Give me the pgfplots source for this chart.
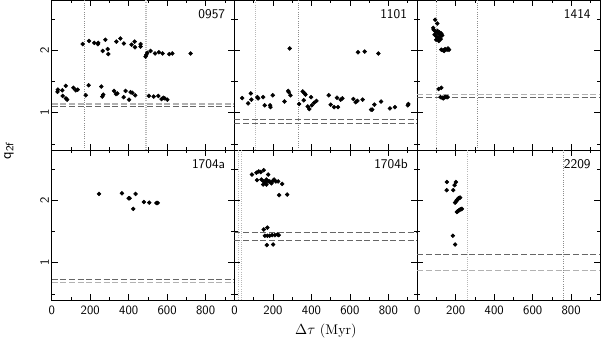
\documentclass[border=0pt]{standalone}
\usepackage{pgfplots}
\pgfplotsset{compat=1.18}
\usepgfplotslibrary{groupplots}

\pgfplotsset{
  dots/.style={only marks, mark=*, mark size=1.45pt, black},
  hdark/.style={black!60, line width=0.5pt, dash pattern=on 4.5pt off 2pt},
  hlight/.style={black!30, line width=0.8pt, dash pattern=on 4.5pt off 2pt},
  vdark/.style={black!45, line width=0.4pt, dash pattern=on 0.4pt off 1.3pt},
  vlight/.style={black!28, line width=0.9pt, dash pattern=on 0.6pt off 1pt},
}
\tikzset{plabel/.style={anchor=north east, inner sep=0pt, font=\sffamily\fontsize{10}{12}\selectfont}}

\begin{document}
\begin{tikzpicture}
\begin{groupplot}[
    group style={group size=3 by 2, horizontal sep=0pt, vertical sep=0pt,
      xticklabels at=edge bottom, yticklabels at=edge left},
    scale only axis,
    width=137.25pt, height=112.5pt,
    xmin=0, xmax=950, ymin=0.4, ymax=2.8,
    xtick={0,200,400,600,800}, minor xtick={100,300,500,700,900},
    ytick={1,2}, minor ytick={0.5,1.5,2.5},
    tick align=inside,
    major tick length=4.5pt, minor tick length=2.3pt,
    every tick/.style={black, line width=0.4pt},
    axis line style={line width=0.6pt},
    tick label style={font=\sffamily\fontsize{9.5}{11}\selectfont},
    /pgf/number format/assume math mode=true,
    yticklabel style={rotate=90, anchor=south, inner sep=2pt},
    xticklabel style={inner sep=4pt},
]
% 0957
\nextgroupplot
\addplot[vdark] coordinates {(170,0.4) (170,2.8)};
\addplot[vlight] coordinates {(490,0.4) (490,2.8)};
\addplot[hlight] coordinates {(0,1.14) (950,1.14)};
\addplot[hdark] coordinates {(0,1.10) (950,1.10)};
\addplot[dots] coordinates {
  (161,2.10)(194,2.15)(221,2.12)(240,2.10)(242,2.12)(265,1.99)(279,2.17)(291,2.02)
  (294,1.94)(336,2.14)(357,2.19)(375,2.11)(415,2.09)(431,2.14)(433,2.05)(462,2.10)
  (462,2.06)(488,1.90)(492,1.93)(497,1.96)(514,1.99)(537,1.95)(557,1.97)(576,1.95)
  (611,1.94)(627,1.95)(722,1.95)
  (30,1.335)(32,1.37)(55,1.36)(57,1.27)(74,1.23)(80,1.21)(73,1.43)(113,1.40)
  (125,1.36)(135,1.37)(177,1.28)(192,1.44)(258,1.42)(263,1.26)(268,1.29)(324,1.35)
  (334,1.30)(341,1.31)(374,1.25)(384,1.35)(402,1.21)(410,1.33)(419,1.32)(434,1.28)
  (505,1.27)(530,1.26)(554,1.27)(571,1.22)(580,1.24)(588,1.23)(601,1.21)
};
\node[plabel] at (rel axis cs:0.95,0.94) {0957};

% 1101
\nextgroupplot
\addplot[vlight] coordinates {(110,0.4) (110,2.8)};
\addplot[vdark] coordinates {(330,0.4) (330,2.8)};
\addplot[hdark] coordinates {(0,0.90) (950,0.90)};
\addplot[hdark] coordinates {(0,0.83) (950,0.83)};
\addplot[dots] coordinates {
  (40,1.235)(71,1.15)(85,1.31)(88,1.21)(119,1.25)(123,1.23)(149,1.25)(157,1.12)
  (185,1.12)(187,1.09)(199,1.28)(260,1.18)(279,1.35)(282,1.33)(287,2.03)(291,1.28)
  (336,1.14)(355,1.34)(360,1.20)(365,1.31)(369,1.29)(381,1.10)(389,1.06)(398,1.25)
  (402,1.12)(414,1.16)(426,1.19)(490,1.28)(500,1.13)(518,1.09)(533,1.24)(538,1.09)
  (552,1.21)(561,1.23)(618,1.22)(630,1.17)(639,1.19)(642,1.97)(666,1.21)(677,1.98)
  (710,1.05)(716,1.05)(727,1.13)(748,1.95)(762,1.18)(808,1.07)(834,1.09)(901,1.12)
  (904,1.14)
};
\node[plabel] at (rel axis cs:0.945,0.94) {1101};

% 1414
\nextgroupplot
\addplot[vlight] coordinates {(100,0.4) (100,2.8)};
\addplot[vdark] coordinates {(310,0.4) (310,2.8)};
\addplot[hlight] coordinates {(0,1.29) (950,1.29)};
\addplot[hdark] coordinates {(0,1.25) (950,1.25)};
\addplot[dots] coordinates {
  (93,2.49)(104,2.43)(83,2.36)
  (85,2.33)(95,2.30)(105,2.31)(115,2.29)(125,2.27)(90,2.25)(100,2.22)(110,2.20)
  (120,2.22)(130,2.24)(98,2.17)(112,2.15)(122,2.18)(108,2.27)(118,2.25)
  (125,2.01)(135,2.00)(145,2.02)(155,2.01)(165,2.01)(140,1.99)(160,2.03)
  (111,1.38)(125,1.40)
  (121,1.25)(130,1.24)(140,1.245)(150,1.25)(135,1.23)(145,1.255)(158,1.25)
};
\node[plabel] at (rel axis cs:0.95,0.94) {1414};

% 1704a
\nextgroupplot
\addplot[hdark] coordinates {(0,0.736) (950,0.736)};
\addplot[hlight] coordinates {(0,0.68) (950,0.68)};
\addplot[dots] coordinates {
  (246,2.10)(365,2.11)(400,2.03)(405,2.03)(424,1.86)(436,2.10)(479,1.97)(507,1.96)
  (544,1.955)(551,1.955)
};
\node[plabel] at (rel axis cs:0.95,0.94) {1704a};

% 1704b
\nextgroupplot
\addplot[vlight] coordinates {(20,0.4) (20,2.8)};
\addplot[vlight] coordinates {(36,0.4) (36,2.8)};
\addplot[hdark] coordinates {(0,1.49) (950,1.49)};
\addplot[hdark] coordinates {(0,1.36) (950,1.36)};
\addplot[dots] coordinates {
  (91,2.41)(114,2.44)(126,2.46)(136,2.45)(152,2.48)(175,2.41)(117,2.32)(140,2.33)
  (152,2.30)(158,2.27)(166,2.33)(175,2.30)(183,2.30)(192,2.27)(206,2.33)(215,2.30)
  (227,2.30)(149,2.25)(166,2.25)(248,2.26)(232,2.08)(274,2.09)(200,2.31)(160,2.29)
  (152,1.53)(171,1.56)(158,1.43)(171,1.43)(183,1.43)(196,1.44)(210,1.44)(223,1.45)
  (230,1.44)(168,1.28)(201,1.29)
};
\node[plabel] at (rel axis cs:0.95,0.94) {1704b};

% 2209
\nextgroupplot
\addplot[vlight] coordinates {(260,0.4) (260,2.8)};
\addplot[vdark] coordinates {(760,0.4) (760,2.8)};
\addplot[hdark] coordinates {(0,1.126) (950,1.126)};
\addplot[hlight] coordinates {(0,0.88) (950,0.88)};
\addplot[dots] coordinates {
  (154,2.29)(153,2.16)(187,2.16)(194,2.24)(201,2.29)
  (197,1.96)(202,1.98)(206,2.00)(210,2.01)(214,2.03)(218,2.035)(223,2.04)
  (206,1.81)(210,1.82)(214,1.83)(218,1.84)(223,1.85)(228,1.855)(232,1.86)
  (185,1.43)(197,1.29)
};
\node[plabel] at (rel axis cs:0.95,0.94) {2209};
\end{groupplot}

\node[rotate=90, font=\fontsize{11}{13}\selectfont] at ([xshift=-32pt]group c1r1.south west) {$\mathsf{q}_{\mathsf{2f}}$};
\node[font=\fontsize{10.5}{12}\selectfont] at ([yshift=-23.5pt]group c2r2.south) {$\Delta\tau$ (Myr)};
\path ([xshift=-37.5pt,yshift=-28.5pt]group c1r2.south west) rectangle ([xshift=1.5pt]group c3r1.north east);
\end{tikzpicture}
\end{document}
